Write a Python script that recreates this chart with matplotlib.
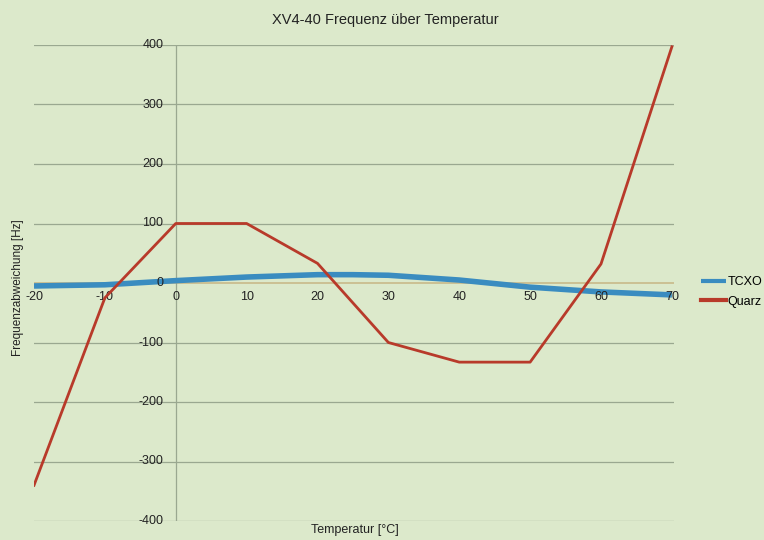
import matplotlib
matplotlib.use("Agg")
import matplotlib.pyplot as plt

# Temperature points and frequency deviation of both oscillators
temperatur = [-20, -10, 0, 10, 20, 25, 30, 40, 50, 60, 70]
tcxo = [-5, -3, 4, 10, 14, 14, 13, 5, -7, -15, -20]

temp_quarz = [-20, -10, 0, 10, 20, 30, 40, 50, 60, 70]
quarz = [-340, -25, 100, 100, 33, -100, -133, -133, 32, 397]

y_ticks = [-400, -300, -200, -100, 0, 100, 200, 300, 400]
x_ticks = [-20, -10, 0, 10, 20, 30, 40, 50, 60, 70]

bg = "#dce9cb"
font = ["Liberation Sans", "DejaVu Sans"]
plt.rcParams["font.family"] = font

fig = plt.figure(figsize=(7.64, 5.40), dpi=100, facecolor=bg)
ax = fig.add_axes([34 / 764, 19 / 540, (674 - 34) / 764, (521 - 45) / 540])
ax.set_facecolor(bg)

ax.set_xlim(-20, 70.3)
ax.set_ylim(-400, 400)

# horizontal gridlines
for v in y_ticks:
    if v == 0:
        continue
    ax.axhline(v, color="#9aa890", lw=0.9, zorder=1)

# axes crossing at zero
ax.axhline(0, color="#c8b98a", lw=1.2, zorder=1)
ax.axvline(0, color="#9aa890", lw=0.9, zorder=1)

for s in ax.spines.values():
    s.set_visible(False)
ax.set_xticks([])
ax.set_yticks([])

ax.plot(temperatur, tcxo, color="#3a8cc0", lw=4.0, solid_capstyle="butt",
        zorder=3, label="TCXO")
ax.plot(temp_quarz, quarz, color="#b83a2a", lw=2.0, zorder=4, label="Quarz")

# y tick labels next to the vertical axis at x = 0
for v in y_ticks:
    ax.annotate(f"{v}", xy=(0, v), xycoords="data", xytext=(-9, 0),
                textcoords="offset points", ha="right", va="center",
                fontsize=9, color="#222222")

# x tick labels below the horizontal axis at y = 0
for t in x_ticks:
    ax.annotate(f"{t}", xy=(t, 0), xycoords="data", xytext=(0, -10),
                textcoords="offset points", ha="center", va="center",
                fontsize=9, color="#222222")

fig.text(385 / 764, 1 - 20 / 540, "XV4-40 Frequenz über Temperatur",
         ha="center", va="center", fontsize=10.5, color="#222222")
fig.text(355 / 764, 1 - 530 / 540, "Temperatur [°C]",
         ha="center", va="center", fontsize=9, color="#222222")
fig.text(18 / 764, 1 - 288 / 540, "Frequenzabweichung [Hz]",
         ha="center", va="center", rotation=90, fontsize=8.5, color="#222222")

# legend
leg = fig.legend(loc="center left", bbox_to_anchor=(690 / 764, 1 - 292 / 540),
                 frameon=False, fontsize=9, handlelength=2.0,
                 handletextpad=0.1, labelspacing=0.6)
for line in leg.get_lines():
    line.set_linewidth(3.0)

fig.savefig("out.png", dpi=100, facecolor=bg)
